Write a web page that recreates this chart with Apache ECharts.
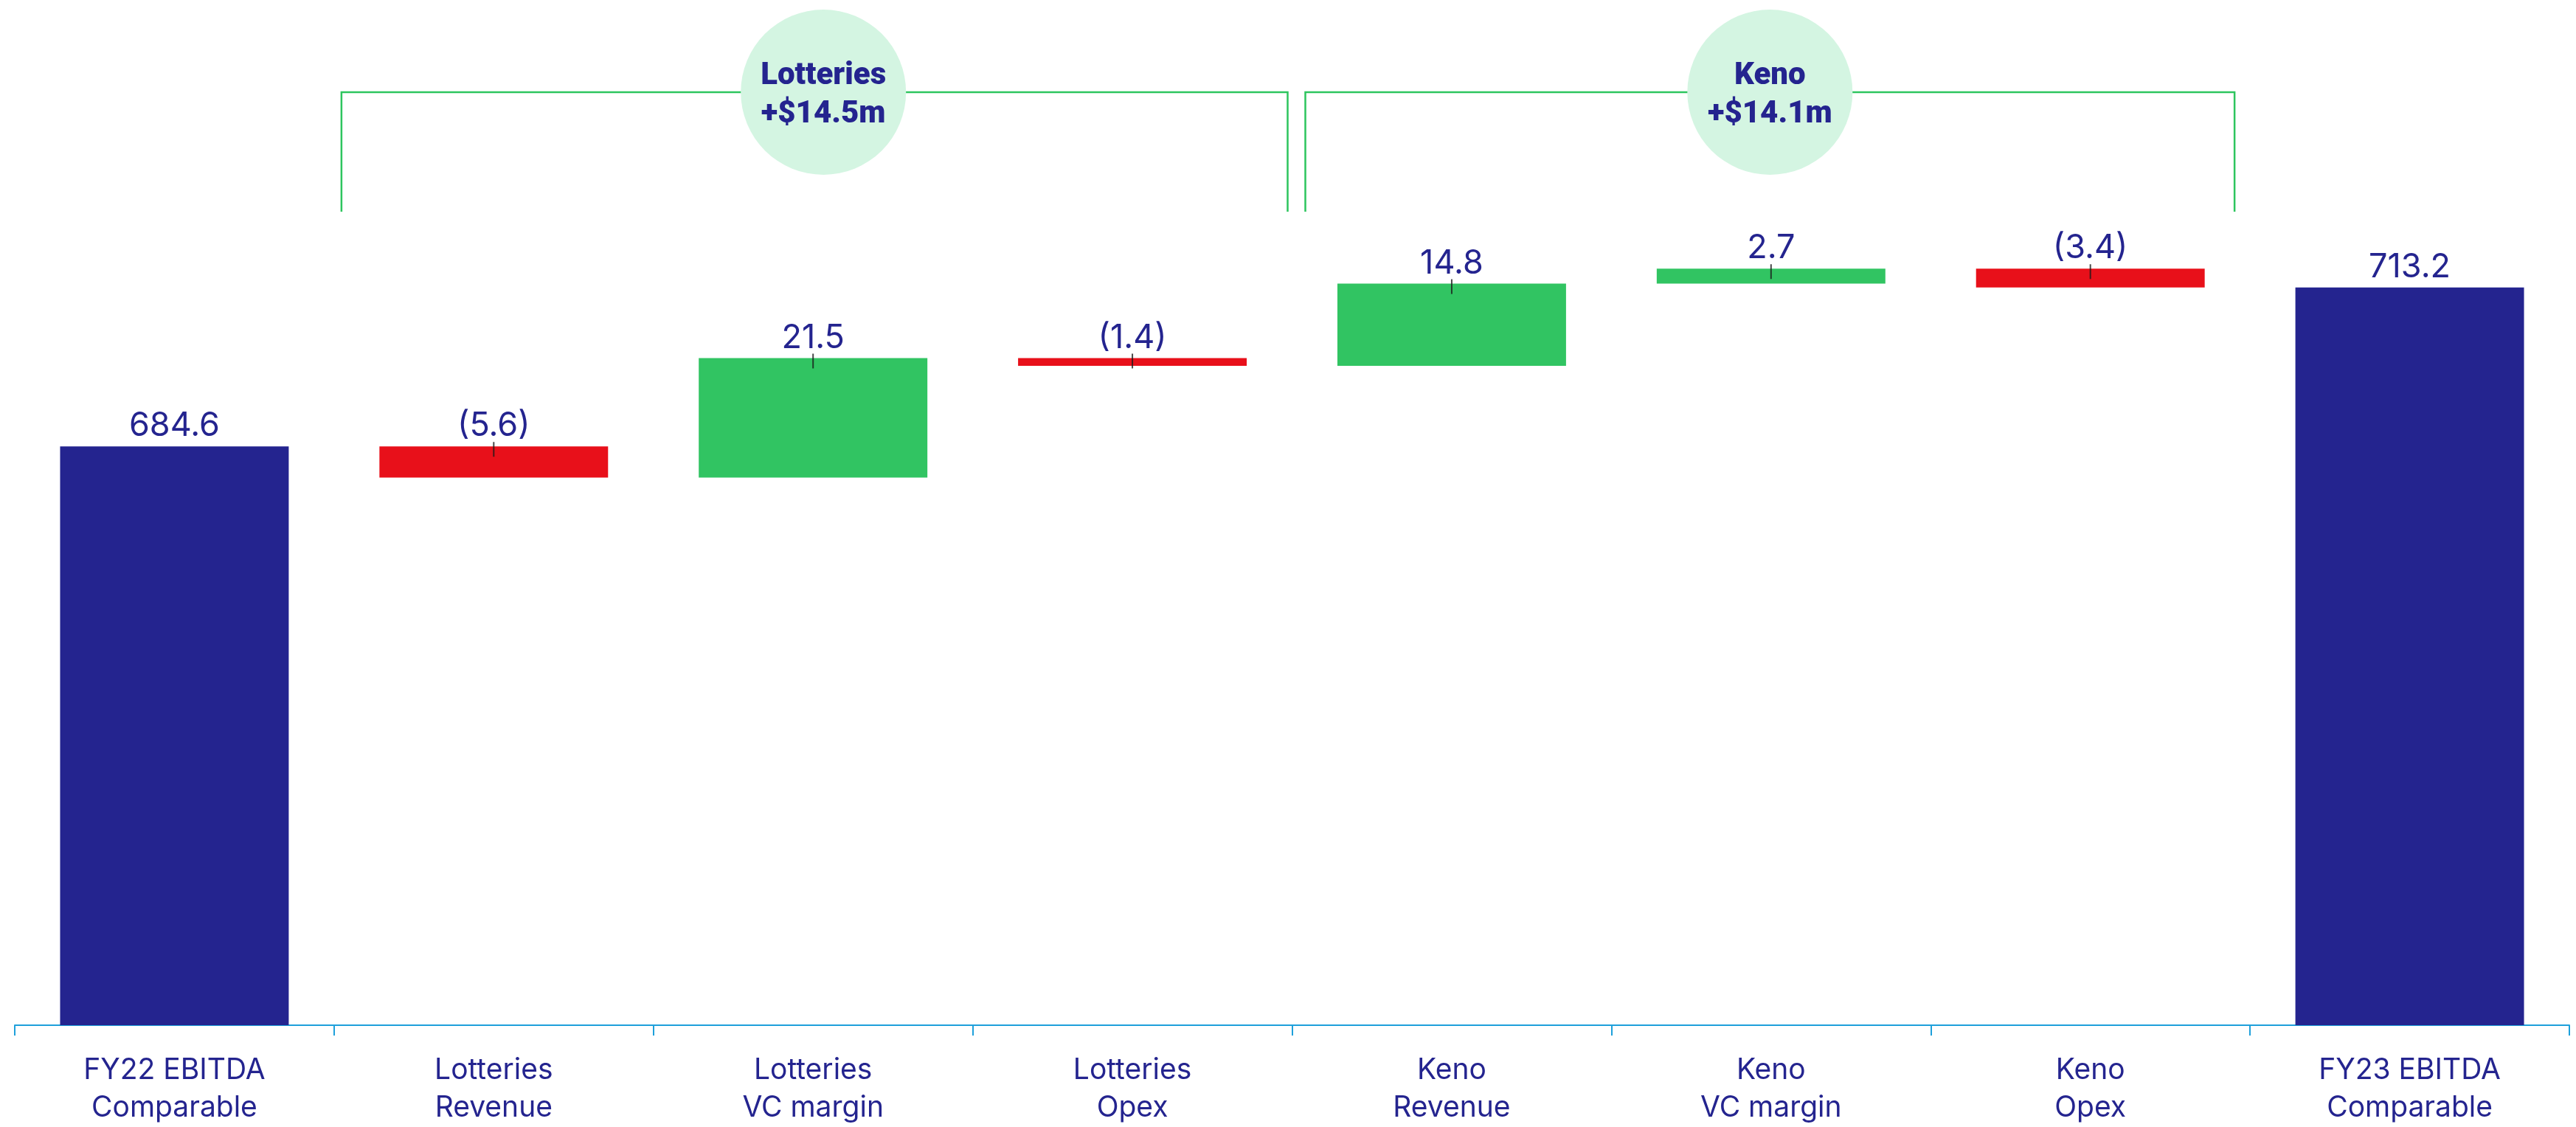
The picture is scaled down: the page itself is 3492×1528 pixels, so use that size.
<!DOCTYPE html>
<html><head><meta charset="utf-8">
<script src="https://cdn.jsdelivr.net/npm/echarts@6/dist/echarts.min.js"></script>
<style>html,body{margin:0;padding:0;background:#fff}#c{width:3492px;height:1528px}</style>
</head><body><div id="c"></div>
<script>
// ---- data ----
const categories = ['FY22 EBITDA\nComparable','Lotteries\nRevenue','Lotteries\nVC margin','Lotteries\nOpex','Keno\nRevenue','Keno\nVC margin','Keno\nOpex','FY23 EBITDA\nComparable'];
const values = [684.6, -5.6, 21.5, -1.4, 14.8, 2.7, -3.4, 713.2];
const isTotal = [true, false, false, false, false, false, false, true];
const groupTitles = ['Lotteries', 'Keno'];
const groupAmounts = ['+$14.5m', '+$14.1m'];
const groupFrom = [1, 4];
const groupTo = [3, 6];

// ---- styles ----
const NAVY = '#24248f', RED = '#e8101a', GREEN = '#31c462', BRACKET = '#2dc55e', BUBBLE = '#d4f5e2', AXIS = '#1ea0db';
const FONT = 'Inter';

// derived waterfall pieces
let running = 0;
const baseData = [], barData = [], tickData = [];
values.forEach((v, i) => {
  if (isTotal[i]) {
    baseData.push('-');
    barData.push({ value: v, itemStyle: { color: NAVY } });
    running = v;
  } else {
    const s = running, e = running + v;
    baseData.push(Math.min(s, e));
    barData.push({ value: Math.abs(v), itemStyle: { color: v < 0 ? RED : GREEN } });
    tickData.push([i, Math.max(s, e)]);
    running = e;
  }
});

const chart = echarts.init(document.getElementById('c'));
chart.setOption({
  animation: false,
  backgroundColor: '#fff',
  grid: { left: 20, right: 9, top: 185, bottom: 135, containLabel: false },
  xAxis: {
    type: 'category', data: categories,
    axisLine: { lineStyle: { color: AXIS, width: 2 } },
    axisTick: { show: true, length: 14, lineStyle: { color: AXIS, width: 2 } },
    axisLabel: { color: NAVY, fontFamily: FONT, fontSize: 39, lineHeight: 51, margin: 36, interval: 0 }
  },
  yAxis: { type: 'value', min: 580.4, max: 740.4, show: false, splitLine: { show: false } },
  series: [
    { type: 'bar', stack: 'w', data: baseData, barWidth: '71.6%', itemStyle: { color: 'transparent' }, silent: true },
    { type: 'bar', stack: 'w', data: barData, barWidth: '71.6%', clip: true,
      label: { show: true, position: 'top', distance: 5, color: NAVY, fontFamily: FONT, fontSize: 45,
        formatter: p => { const v = values[p.dataIndex]; return v < 0 ? '(' + Math.abs(v).toFixed(1) + ')' : v.toFixed(1); } } },
    { type: 'scatter', data: tickData, symbol: 'rect', symbolSize: [2, 20], symbolOffset: [0, 4],
      itemStyle: { color: '#1a1a1a' }, z: 5, silent: true }
  ]
});

// ---- group brackets, placed from axis positions ----
const c0 = chart.convertToPixel({ xAxisIndex: 0 }, 0);
const c1 = chart.convertToPixel({ xAxisIndex: 0 }, 1);
const band = c1 - c0;
const insetL = [10, 18], insetR = [6, 21], bubbleShift = [12, 0];
const graphics = [];
groupTitles.forEach((t, g) => {
  const x1 = chart.convertToPixel({ xAxisIndex: 0 }, groupFrom[g]) - band / 2 + insetL[g];
  const x2 = chart.convertToPixel({ xAxisIndex: 0 }, groupTo[g]) + band / 2 - insetR[g];
  const yTop = 125, yBot = 287;
  graphics.push({ type: 'polyline', shape: { points: [[x1, yBot], [x1, yTop], [x2, yTop], [x2, yBot]] },
    style: { stroke: BRACKET, lineWidth: 2.5, fill: null }, z: 10 });
  const cx = (x1 + x2) / 2 + bubbleShift[g];
  graphics.push({ type: 'circle', shape: { cx: cx, cy: yTop, r: 112 }, style: { fill: BUBBLE }, z: 11 });
  graphics.push({ type: 'text', x: cx, y: 129, z: 12,
    style: { text: t + '\n' + groupAmounts[g], fill: NAVY, font: '900 42px Roboto', lineHeight: 52,
      textAlign: 'center', textVerticalAlign: 'middle', align: 'center', verticalAlign: 'middle' } });
});
chart.setOption({ graphic: graphics });
</script></body></html>
